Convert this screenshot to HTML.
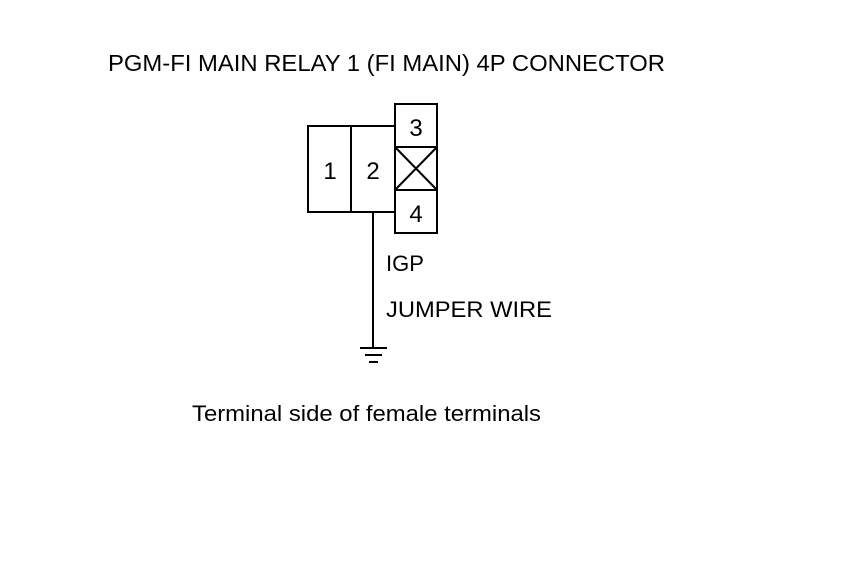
<!DOCTYPE html>
<html><head><style>body{margin:0;background:#fff}svg{display:block}</style></head>
<body>
<svg width="860" height="580" viewBox="0 0 860 580" xmlns="http://www.w3.org/2000/svg" font-family="Liberation Sans, Arial, sans-serif" fill="#000">
<g stroke="#000" stroke-width="2" fill="none">
<rect x="308" y="126" width="87" height="86"/>
<line x1="351" y1="126" x2="351" y2="212"/>
<rect x="395" y="104" width="42" height="129"/>
<line x1="395" y1="147" x2="437" y2="147"/>
<line x1="395" y1="190" x2="437" y2="190"/>
<line x1="395" y1="147" x2="437" y2="190"/>
<line x1="437" y1="147" x2="395" y2="190"/>
<line x1="373" y1="212" x2="373" y2="348"/>
<line x1="360" y1="348" x2="387" y2="348"/>
<line x1="365" y1="355" x2="382" y2="355"/>
<line x1="369" y1="362" x2="378" y2="362"/>
</g>
<text x="108" y="71" font-size="23" textLength="557" lengthAdjust="spacingAndGlyphs">PGM-FI MAIN RELAY 1 (FI MAIN) 4P CONNECTOR</text>
<text x="330" y="179" font-size="24" text-anchor="middle">1</text>
<text x="373" y="179" font-size="24" text-anchor="middle">2</text>
<text x="416" y="136" font-size="24" text-anchor="middle">3</text>
<text x="416" y="222" font-size="24" text-anchor="middle">4</text>
<text x="386" y="271" font-size="22">IGP</text>
<text x="386" y="317" font-size="22" textLength="166" lengthAdjust="spacingAndGlyphs">JUMPER WIRE</text>
<text x="192" y="421" font-size="22" textLength="349" lengthAdjust="spacingAndGlyphs">Terminal side of female terminals</text>
</svg>
</body></html>
